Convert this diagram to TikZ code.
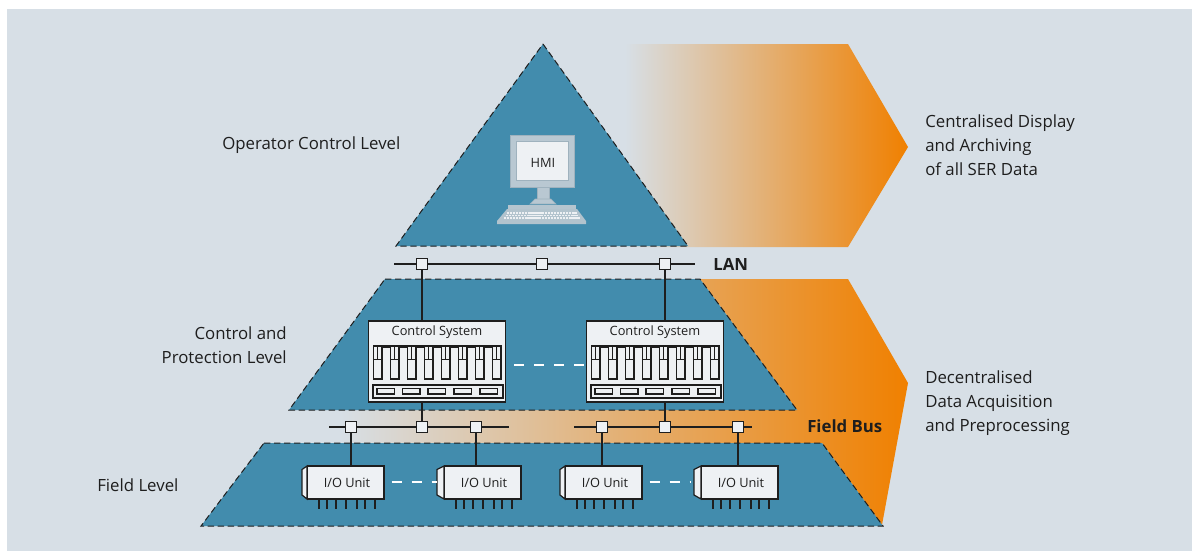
\documentclass[tikz,border=0pt]{standalone}
\usepackage{fontspec}
\setmainfont{Open Sans}
\definecolor{bgc}{HTML}{D7DFE6}
\definecolor{teal}{HTML}{428CAD}
\definecolor{org}{HTML}{F08000}
\definecolor{ink}{HTML}{1E1E1E}
\definecolor{pale}{HTML}{EEF1F4}
\definecolor{mon}{HTML}{B9C8D2}
\definecolor{monl}{HTML}{9FB2BE}
\tikzset{
  lvl/.style={fill=teal,draw=ink,line width=0.75pt,dash pattern=on 4.8pt off 2.7pt},
  conn/.style={draw=ink,line width=0.9pt},
  sw/.style={draw=ink,fill=pale,line width=0.9pt,minimum size=8.2pt,inner sep=0pt,rectangle},
  lab/.style={font=\fontsize{12.6pt}{18pt}\selectfont,text=ink,inner sep=0pt},
  blab/.style={font=\fontsize{12.6pt}{18pt}\selectfont\bfseries,text=ink,inner sep=0pt},
  small/.style={font=\fontsize{9.6pt}{12pt}\selectfont,text=ink,inner sep=0pt},
  cbox/.style={draw=ink,fill=pale,line width=0.9pt,minimum width=102.7pt,minimum height=60.7pt,inner sep=0pt,rectangle},
  iobox/.style={draw=ink,fill=pale,line width=1pt,minimum width=57.5pt,minimum height=24.8pt,inner sep=0pt,rectangle},
  wdash/.style={draw=white,line width=0.8pt,dash pattern=on 7.5pt off 7.5pt},
}
\begin{document}
\begin{tikzpicture}[x=0.75pt,y=-0.75pt]
\useasboundingbox (0,0) rectangle (1193,551);
\fill[white] (0,0) rectangle (1193,551);
\fill[bgc] (7,9) rectangle (1192,551);
% orange arrows
\shade[left color=bgc,right color=org] (625,44) -- (848,44) -- (908,147) -- (848,247) -- (625,247) -- cycle;
\shade[left color=bgc,right color=org] (700,279) -- (848,279) -- (908,383) -- (882,525) -- (822,443) -- (340,443) -- (340,410) -- (797,410) -- cycle;
% levels
\draw[lvl] (543,44) -- (688,246) -- (396,246) -- cycle;
\draw[lvl] (385,279) -- (700,279) -- (797,410) -- (289,410) -- cycle;
\draw[lvl] (264,443) -- (822,443) -- (883,526) -- (201,526) -- cycle;
% HMI
\draw[fill=mon,draw=monl,line width=0.5pt] (537,187) rectangle (549,203);
\draw[fill=mon,draw=monl,line width=0.5pt] (530,204) -- (535,199) -- (551,199) -- (556,204) -- cycle;
\draw[fill=mon,draw=monl,line width=0.75pt] (510,135) rectangle (574,187);
\draw[fill=pale,draw=monl,line width=0.75pt] (516,141) rectangle (568,180);
\node[small] (hmi) at (543,162.5) {HMI};
\fill[mon!85!monl] (508,205) rectangle (576,209);
\fill[mon!75!monl] (507,209) -- (577,209) -- (586,221) -- (586,224) -- (497,224) -- (497,221) -- cycle;
\foreach \yy/\xa/\xb in {213/507/577,215.5/506/578,218/504/580}
  \draw[pale,line width=1pt,dash pattern=on 1.7pt off 0.5pt] (\xa,\yy) -- (\xb,\yy);
% buses
\coordinate (lanL) at (394,264);
\coordinate (lanR) at (695,264);
\coordinate (fbaL) at (329,427);
\coordinate (fbaR) at (509,427);
\coordinate (fbbL) at (574,427);
\coordinate (fbbR) at (752,427);
\draw[conn] (lanL) -- (lanR);
\draw[conn] (fbaL) -- (fbaR);
\draw[conn] (fbbL) -- (fbbR);
\foreach \n/\x/\y in {la/422/264,lb/542/264,lc/665/264,fa/351/427,fb/422/427,fc/476/427,fd/602/427,fe/665/427,ff/738/427}
  \node[sw] (\n) at (\x,\y) {};
% control systems
\node[cbox] (csa) at (437,361.5) {};
\node[cbox] (csb) at (655,361.5) {};
\node[small] (csat) at (437,332) {Control System};
\node[small] (csbt) at (655,332) {Control System};
\foreach \o in {0,218} {
  \begin{scope}[xshift=\o*0.75pt]
  \foreach \c in {0,...,7} {
    \pgfmathsetmacro\xl{373.5+17*\c}
    \draw[ink,line width=0.9pt] (\xl,346) rectangle (\xl+8.5,379);
    \draw[ink,line width=0.7pt] (\xl,359) -- (\xl+8.5,359);
    \draw[ink,line width=0.7pt] (\xl+4.2,346) -- (\xl+4.2,359);
  }
  \foreach \c in {0,...,6} {
    \pgfmathsetmacro\xl{382+17*\c}
    \fill[ink] (\xl,345) rectangle (\xl+8.5,347.5);
  }
  \draw[ink,line width=0.9pt] (373,385) rectangle (503,398);
  \foreach \xl in {377,402.5,428,454,480}
    \draw[ink,line width=0.9pt] (\xl,388.5) rectangle (\xl+17.5,394);
  \end{scope}
}
% IO units
\foreach \n/\x/\tx in {ua/345.5/302,ub/482.5/437,uc/603.5/560,ud/739.5/694} {
  \pgfmathsetmacro\bl{\x-38.5}
  \draw[draw=ink,fill=pale,line width=0.9pt] (\bl,466) -- (\tx,469.5) -- (\tx,495) -- (\bl,499) -- cycle;
  \node[iobox] (\n) at (\x,482.5) {};
  \node[small] at (\x+1.5,483) {I/O Unit};
  \foreach \p in {12,20,29,39,50,58,68}
    \draw[ink,line width=0.9pt] (\bl+\p,499) -- (\bl+\p,509);
}
% connectors
\draw[conn] (la) -- (la |- csa.north);
\draw[conn] (lc) -- (lc |- csb.north);
\draw[conn] (csa.south -| fb) -- (fb);
\draw[conn] (csb.south -| fe) -- (fe);
\draw[conn] (fa) -- (fa |- ua.north);
\draw[conn] (fc) -- (fc |- ub.north);
\draw[conn] (fd) -- (fd |- uc.north);
\draw[conn] (ff) -- (ff |- ud.north);
% dashes
\draw[wdash] (csa.east |- 0,365) ++(8,0) coordinate (da) -- (csb.west |- 0,365);
\draw[wdash] (ua.east |- 0,482) ++(7,0) -- (437,482);
\draw[wdash] (uc.east |- 0,482) ++(7,0) -- (690,482);
% labels
\node[lab,anchor=west] (l1) at (222,145) {Operator Control Level};
\node[lab,align=right,anchor=east] (l2) at (287,345) {Control and\\Protection Level};
\node[lab,anchor=west] (l3) at (97,485) {Field Level};
\node[lab,align=left,anchor=west] (r1) at (925,145) {Centralised Display\\and Archiving\\of all SER Data};
\node[lab,align=left,anchor=west] (r2) at (925,403) {Decentralised\\Data Acquisition\\and Preprocessing};
\node[blab,anchor=west] (lan) at (713,264) {LAN};
\node[blab,anchor=west] (fbus) at (807,426) {Field Bus};
\end{tikzpicture}
\end{document}
